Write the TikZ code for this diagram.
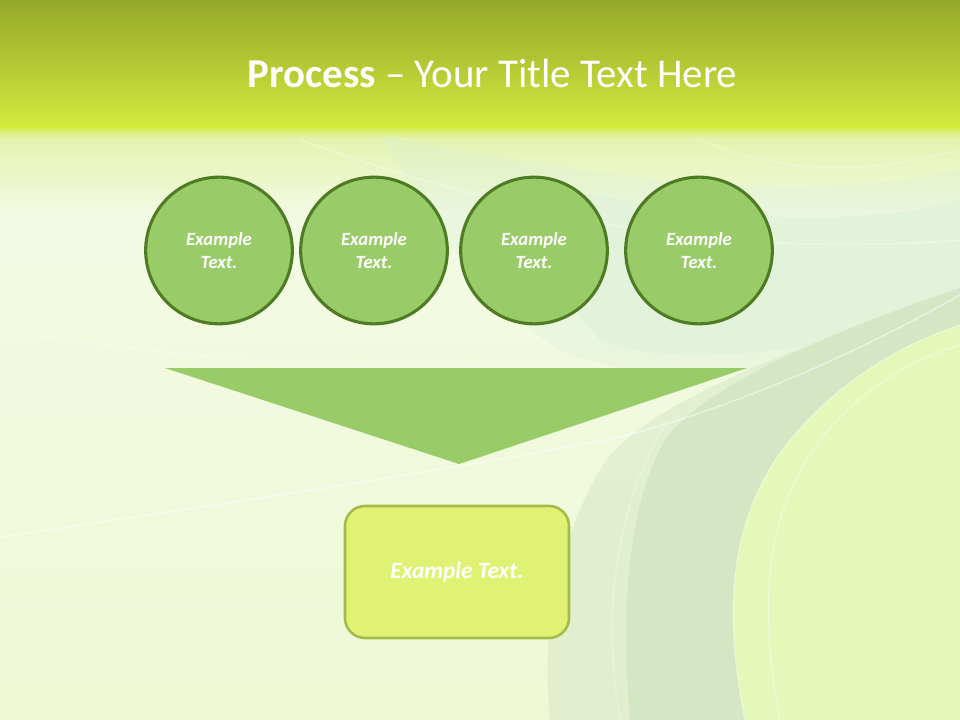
\documentclass[tikz,border=0pt]{standalone}
\usepackage{fontspec}
\setmainfont{Carlito}
\definecolor{topA}{HTML}{95A92A}
\definecolor{topB}{HTML}{B3C833}
\definecolor{topC}{HTML}{D4EC3F}
\definecolor{bodyA}{HTML}{E2F2A8}
\definecolor{bodyB}{HTML}{F3FAE4}
\definecolor{bodyC}{HTML}{F2F9E0}
\definecolor{bodyD}{HTML}{EEF8D4}
\definecolor{mint}{HTML}{DCF0D8}
\definecolor{band}{HTML}{D4E6C4}
\definecolor{bandsoft}{HTML}{DDEBCB}
\definecolor{yel}{HTML}{E6F7BA}
\definecolor{circfill}{HTML}{9ACB69}
\definecolor{circline}{HTML}{4F7B24}
\definecolor{boxfill}{HTML}{E0F273}
\definecolor{boxline}{HTML}{A4BB4C}
\tikzset{
  stepcirc/.style={circle, minimum size=110pt, inner sep=0pt, fill=circfill, draw=circline, line width=2.3pt,
    text=white, font=\fontsize{14}{17}\selectfont\bfseries\itshape, align=center},
  resultbox/.style={rectangle, rounded corners=15pt, minimum width=168pt, minimum height=99pt, fill=boxfill,
    draw=boxline, line width=1.9pt, text=white, font=\fontsize{17.5}{21}\selectfont\bfseries\itshape},
  streak/.style={white, line width=1.2pt, opacity=0.45}
}
\begin{document}
\begin{tikzpicture}[x=0.75pt,y=-0.75pt]
\useasboundingbox (0,0) rectangle (960,720);
% background body
\shade[top color=bodyA, bottom color=bodyB] (0,128) rectangle (960,215);
\shade[top color=bodyB, bottom color=bodyD] (0,215) rectangle (960,720);
% mint haze upper right
\fill[mint, opacity=0.35] (380,135) .. controls (650,190) and (820,200) .. (960,170) -- (960,340) .. controls (800,370) and (650,390) .. (560,350) .. controls (480,300) and (430,220) .. (380,135) -- cycle;
\fill[mint, opacity=0.45] (520,180) .. controls (700,220) and (850,230) .. (960,200) -- (960,320) .. controls (800,350) and (680,370) .. (600,340) .. controls (560,300) and (540,240) .. (520,180) -- cycle;
% soft left fringe of band
\fill[bandsoft, opacity=0.7] (960,290) .. controls (820,340) and (640,400) .. (600,470) .. controls (560,540) and (540,620) .. (550,720)
  -- (745,720) .. controls (725,620) and (725,520) .. (790,440) .. controls (840,380) and (900,345) .. (960,325) -- cycle;
% darker band sweeping down
\fill[band] (960,288) .. controls (820,335) and (700,390) .. (665,440) .. controls (630,500) and (620,600) .. (630,720)
  -- (745,720) .. controls (725,620) and (725,520) .. (790,440) .. controls (840,380) and (900,345) .. (960,325) -- cycle;
% yellowish right region
\fill[yel] (960,325) .. controls (900,345) and (840,380) .. (790,440) .. controls (725,520) and (725,620) .. (745,720) -- (960,720) -- cycle;
% white streaks
\draw[streak] (0,537) .. controls (250,500) and (450,470) .. (620,437) .. controls (760,400) and (880,340) .. (960,295);
\draw[streak, opacity=0.3] (745,720) .. controls (725,620) and (725,520) .. (790,440) .. controls (840,380) and (900,345) .. (960,325);
\draw[streak, opacity=0.3] (780,720) .. controls (760,620) and (760,520) .. (820,440) .. controls (860,390) and (910,360) .. (960,345);
\draw[streak, opacity=0.25] (620,720) .. controls (600,600) and (620,500) .. (665,425);
\draw[streak, opacity=0.3] (300,140) .. controls (500,210) and (700,260) .. (960,240);
\draw[streak, opacity=0.3] (0,330) .. controls (200,360) and (400,380) .. (560,360);
\draw[streak, opacity=0.25] (700,140) .. controls (800,180) and (880,170) .. (960,150);
% top band
\shade[top color=topA, bottom color=topC, middle color=topB] (0,0) rectangle (960,128);
\shade[top color=topC, bottom color=bodyA, opacity=0.8] (0,128) rectangle (960,138);
% title
\node[anchor=base, text=white, font=\fontsize{30.7}{36}\selectfont, inner sep=0pt] (title) at (492.5,88) {\textbf{Process} – Your Title Text Here};
% circles
\node[stepcirc] (c1) at (219,250.5) {Example\\Text.};
\node[stepcirc] (c2) at (374,250.5) {Example\\Text.};
\node[stepcirc] (c3) at (534,250.5) {Example\\Text.};
\node[stepcirc] (c4) at (699,250.5) {Example\\Text.};
% funnel triangle
\coordinate (tl) at (165,368);
\coordinate (tr) at (747,368);
\coordinate (tp) at (459,464);
\fill[circfill] (tl) -- (tr) -- (tp) -- cycle;
% result box
\node[resultbox] (res) at (457,572) {Example Text.};
\end{tikzpicture}
\end{document}
